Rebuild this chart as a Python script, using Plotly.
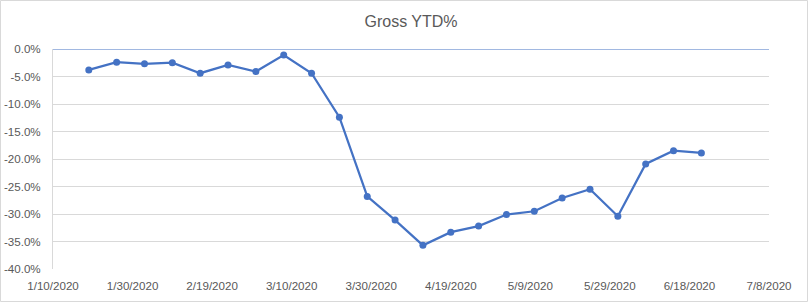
import plotly.graph_objects as go

# Data (weekly)
dates = ["2020-01-19", "2020-01-26", "2020-02-02", "2020-02-09", "2020-02-16",
         "2020-02-23", "2020-03-01", "2020-03-08", "2020-03-15", "2020-03-22",
         "2020-03-29", "2020-04-05", "2020-04-12", "2020-04-19", "2020-04-26",
         "2020-05-03", "2020-05-10", "2020-05-17", "2020-05-24", "2020-05-31",
         "2020-06-07", "2020-06-14", "2020-06-21"]
gross_ytd = [-0.038, -0.024, -0.027, -0.025, -0.044, -0.029, -0.041, -0.011,
             -0.044, -0.124, -0.268, -0.311, -0.357, -0.333, -0.322, -0.301,
             -0.295, -0.271, -0.255, -0.304, -0.209, -0.185, -0.189]

ytick_vals = [0, -0.05, -0.10, -0.15, -0.20, -0.25, -0.30, -0.35, -0.40]
ytick_labels = ["0.0%", "-5.0%", "-10.0%", "-15.0%", "-20.0%", "-25.0%",
                "-30.0%", "-35.0%", "-40.0%"]

W, H = 808, 302
L, R, T, B = 53, 39, 49, 33
pw, ph = W - L - R, H - T - B

BLUE = "#4472C4"
GRID = "#D9D9D9"
TXT = "#595959"
FONT = "Liberation Sans, Arial, sans-serif"

fig = go.Figure()
fig.add_trace(go.Scatter(
    x=dates, y=gross_ytd, mode="lines+markers",
    line=dict(color=BLUE, width=2.25),
    marker=dict(color=BLUE, size=7),
    hoverinfo="skip", showlegend=False, cliponaxis=False,
))

fig.update_layout(
    width=W, height=H,
    margin=dict(l=L, r=R, t=T, b=B, autoexpand=False),
    paper_bgcolor="white", plot_bgcolor="white",
    title=dict(text="Gross YTD%", x=0.5, xref="paper", xanchor="center",
               y=1 - 21 / H, yref="container", yanchor="middle",
               font=dict(family=FONT, size=16, color=TXT)),
    font=dict(family=FONT, size=11.6, color=TXT),
    xaxis=dict(
        type="date",
        range=["2020-01-10", "2020-07-08"],
        tick0="2020-01-10", dtick=20 * 86400000,
        tickformat="%-m/%-d/%Y",
        showgrid=False, showline=False, zeroline=False,
        ticks="", ticklen=0, automargin=False,
        ticklabelstandoff=8,
        tickfont=dict(family=FONT, size=11.6, color=TXT),
        fixedrange=True,
    ),
    yaxis=dict(
        range=[-0.40, 0],
        tickvals=ytick_vals, ticktext=ytick_labels,
        showgrid=True, gridcolor=GRID, gridwidth=1,
        zeroline=False, automargin=False,
        showline=True, linecolor=GRID, linewidth=1,
        ticks="", ticklabelstandoff=9,
        tickfont=dict(family=FONT, size=11.6, color=TXT),
        fixedrange=True,
    ),
    shapes=[
        dict(type="line", xref="paper", yref="y", x0=0, x1=1, y0=0, y1=0,
             line=dict(color=BLUE, width=1), layer="below"),
        dict(type="rect", xref="paper", yref="paper",
             x0=(0.5 - L) / pw, x1=(W - 0.5 - L) / pw,
             y0=-(B - 0.5) / ph, y1=1 + (T - 0.5) / ph,
             line=dict(color=GRID, width=1), fillcolor="rgba(0,0,0,0)",
             layer="above"),
    ],
)

fig.write_html("out.html")
